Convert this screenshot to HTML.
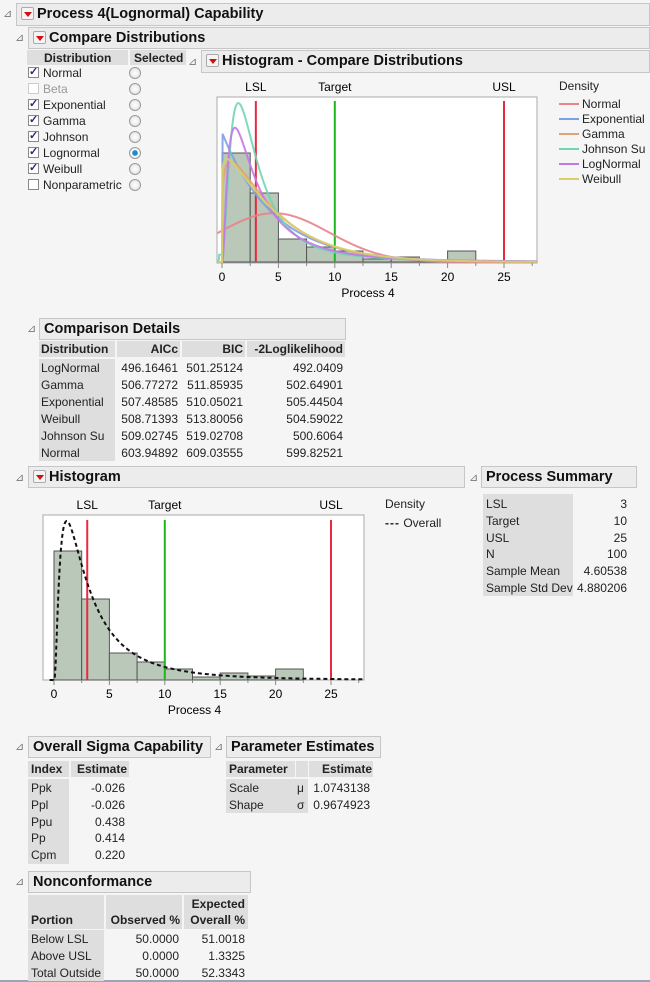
<!DOCTYPE html>
<html><head><meta charset="utf-8">
<style>
*{margin:0;padding:0;box-sizing:border-box}
body{width:650px;height:982px;background:#f5f5f5;position:relative;overflow:hidden;font-family:"Liberation Sans",sans-serif;font-size:12px;color:#222}
.a{position:absolute;white-space:nowrap}
.hd{position:absolute;background:#ececec;border:1px solid #c6c6c6;font-weight:bold;font-size:14.5px;line-height:20px;padding-left:4px;color:#111}
.tri{position:absolute;font-size:11px;color:#777}
.btn{display:inline-block;width:13px;height:13px;border:1px solid #aaa;background:#f4f4f4;vertical-align:-2px;margin-right:3px;position:relative;border-radius:2px}
.btn:after{content:"";position:absolute;left:2px;top:4px;border-left:4px solid transparent;border-right:4px solid transparent;border-top:5px solid #d01010}
.g{position:absolute;background:#dedede}
.cb{position:absolute;width:11px;height:11px;border:1px solid #888;background:#fff;font-size:11px;line-height:9px;text-align:center;color:#2a2a7a;font-weight:bold}
.rd{position:absolute;width:12px;height:12px;border-radius:50%;border:1px solid #999;background:radial-gradient(#fff,#ddd)}
.r{text-align:right}
.b{font-weight:bold}
</style></head><body>
<span class="tri" style="left:3px;top:7px">⊿</span>
<div class="hd" style="left:16px;top:3px;width:634px;height:23px"><span class="btn"></span>Process 4(Lognormal) Capability</div>
<span class="tri" style="left:15px;top:31px">⊿</span>
<div class="hd" style="left:28px;top:27px;width:622px;height:22px"><span class="btn"></span>Compare Distributions</div>

<div class="g" style="left:27px;top:50px;width:101px;height:15px"></div>
<div class="g" style="left:130px;top:50px;width:56px;height:15px"></div>
<div class="a b" style="left:44px;top:51px">Distribution</div>
<div class="a b" style="left:134px;top:51px">Selected</div>

<span class="tri" style="left:188px;top:55px">⊿</span>
<div class="hd" style="left:201px;top:50px;width:449px;height:23px"><span class="btn"></span>Histogram - Compare Distributions</div>

<svg class="a" style="left:0;top:0" width="650" height="982" id="svg">
</svg>

<div class="a" style="left:559px;top:79px">Density</div>

<span class="tri" style="left:27px;top:322px">⊿</span>
<div class="hd" style="left:39px;top:318px;width:307px;height:22px">Comparison Details</div>

<span class="tri" style="left:15px;top:471px">⊿</span>
<div class="hd" style="left:28px;top:466px;width:437px;height:22px"><span class="btn"></span>Histogram</div>
<span class="tri" style="left:469px;top:471px">⊿</span>
<div class="hd" style="left:481px;top:466px;width:156px;height:22px">Process Summary</div>
<div class="a" style="left:385px;top:497px">Density</div>
<div class="a" style="left:385px;top:516px"><span style="letter-spacing:1px;font-weight:bold">---</span> Overall</div>

<span class="tri" style="left:15px;top:740px">⊿</span>
<div class="hd" style="left:28px;top:736px;width:183px;height:22px">Overall Sigma Capability</div>
<span class="tri" style="left:214px;top:740px">⊿</span>
<div class="hd" style="left:226px;top:736px;width:155px;height:22px">Parameter Estimates</div>

<span class="tri" style="left:15px;top:875px">⊿</span>
<div class="hd" style="left:28px;top:871px;width:223px;height:22px">Nonconformance</div>
<div class="a" style="left:0;top:980px;width:650px;height:2px;background:#9aa3b8"></div>

<script>
function add(html){document.body.insertAdjacentHTML('beforeend',html);}
var dl=[["Normal",1],["Beta",-1],["Exponential",1],["Gamma",1],["Johnson",1],["Lognormal",1],["Weibull",1],["Nonparametric",0]];
dl.forEach(function(d,i){var y=66+i*16;
 add('<div class="cb" style="left:28px;top:'+(y+1)+'px;'+(d[1]<0?'border-color:#ccc':'')+'">'+(d[1]>0?'✓':'')+'</div>');
 add('<div class="a" style="left:43px;top:'+y+'px;'+(d[1]<0?'color:#999':'')+'">'+d[0]+'</div>');
 add('<div class="rd" style="left:129px;top:'+(y+1)+'px;'+(i==5?'background:radial-gradient(#1a8fd0 35%,#fff 45%,#ddd)':'')+'"></div>');
});
var cols=[["Normal","#e8838a"],["Exponential","#7f9fe6"],["Gamma","#e0a56f"],["Johnson Su","#6fd6b4"],["LogNormal","#c477e8"],["Weibull","#d8cf6a"]];
cols.forEach(function(c,i){var y=104+i*15;
 add('<div class="a" style="left:559px;top:'+(y-1)+'px;width:20px;height:2px;background:'+c[1]+'"></div>');
 add('<div class="a" style="left:582px;top:'+(y-7)+'px">'+c[0]+'</div>');});
var cx=[[39,76],[117,63],[182,63],[247,98]];
cx.forEach(function(c,i){add('<div class="g" style="left:'+c[0]+'px;top:341px;width:'+c[1]+'px;height:16px"></div>');});
add('<div class="g" style="left:39px;top:359px;width:76px;height:102px"></div>');
var hh=["Distribution","AICc","BIC","-2Loglikelihood"];
hh.forEach(function(h,i){add('<div class="a b '+(i?'r':'')+'" style="left:'+(cx[i][0]+2)+'px;top:342px;width:'+(cx[i][1]-4)+'px">'+h+'</div>');});
var rows=[["LogNormal","496.16461","501.25124","492.0409"],["Gamma","506.77272","511.85935","502.64901"],["Exponential","507.48585","510.05021","505.44504"],["Weibull","508.71393","513.80056","504.59022"],["Johnson Su","509.02745","519.02708","500.6064"],["Normal","603.94892","609.03555","599.82521"]];
rows.forEach(function(r,j){var y=361+j*17;r.forEach(function(v,i){
 add('<div class="a '+(i?'r':'')+'" style="left:'+(cx[i][0]+2)+'px;top:'+y+'px;width:'+(cx[i][1]-4)+'px">'+v+'</div>');});});
add('<div class="g" style="left:483px;top:494px;width:90px;height:102px"></div>');
[["LSL","3"],["Target","10"],["USL","25"],["N","100"],["Sample Mean","4.60538"],["Sample Std Dev","4.880206"]].forEach(function(r,j){var y=497+j*16.8;
 add('<div class="a" style="left:486px;top:'+y+'px">'+r[0]+'</div><div class="a r" style="left:560px;width:67px;top:'+y+'px">'+r[1]+'</div>');});
add('<div class="g" style="left:28px;top:761px;width:41px;height:16px"></div><div class="g" style="left:71px;top:761px;width:58px;height:16px"></div><div class="g" style="left:28px;top:779px;width:41px;height:85px"></div>');
add('<div class="a b" style="left:31px;top:762px">Index</div><div class="a b" style="left:77px;top:762px">Estimate</div>');
[["Ppk","-0.026"],["Ppl","-0.026"],["Ppu","0.438"],["Pp","0.414"],["Cpm","0.220"]].forEach(function(r,j){var y=781+j*16.8;
 add('<div class="a" style="left:31px;top:'+y+'px">'+r[0]+'</div><div class="a r" style="left:70px;width:55px;top:'+y+'px">'+r[1]+'</div>');});
add('<div class="g" style="left:226px;top:761px;width:69px;height:16px"></div><div class="g" style="left:296px;top:761px;width:12px;height:16px"></div><div class="g" style="left:309px;top:761px;width:64px;height:16px"></div><div class="g" style="left:226px;top:779px;width:82px;height:34px"></div>');
add('<div class="a b" style="left:229px;top:762px">Parameter</div><div class="a b" style="left:322px;top:762px">Estimate</div>');
add('<div class="a" style="left:229px;top:781px">Scale</div><div class="a" style="left:297px;top:781px">μ</div><div class="a r" style="left:308px;width:62px;top:781px">1.0743138</div>');
add('<div class="a" style="left:229px;top:798px">Shape</div><div class="a" style="left:297px;top:798px">σ</div><div class="a r" style="left:308px;width:62px;top:798px">0.9674923</div>');
add('<div class="g" style="left:28px;top:895px;width:76px;height:34px"></div><div class="g" style="left:106px;top:895px;width:76px;height:34px"></div><div class="g" style="left:184px;top:895px;width:64px;height:34px"></div><div class="g" style="left:28px;top:930px;width:76px;height:51px"></div>');
add('<div class="a b" style="left:31px;top:913px">Portion</div><div class="a b r" style="left:106px;width:74px;top:913px">Observed %</div><div class="a b r" style="left:184px;width:61px;top:897px">Expected</div><div class="a b r" style="left:184px;width:61px;top:913px">Overall %</div>');
[["Below LSL","50.0000","51.0018"],["Above USL","0.0000","1.3325"],["Total Outside","50.0000","52.3343"]].forEach(function(r,j){var y=932+j*17;
 add('<div class="a" style="left:31px;top:'+y+'px">'+r[0]+'</div><div class="a r" style="left:106px;width:73px;top:'+y+'px">'+r[1]+'</div><div class="a r" style="left:184px;width:61px;top:'+y+'px">'+r[2]+'</div>');});

var S='';
function gammaF(z){var g=7,c=[0.99999999999980993,676.5203681218851,-1259.1392167224028,771.32342877765313,-176.61502916214059,12.507343278686905,-0.13857109526572012,9.9843695780195716e-6,1.5056327351493116e-7];
 if(z<0.5)return Math.PI/(Math.sin(Math.PI*z)*gammaF(1-z));z-=1;var x=c[0];for(var i=1;i<g+2;i++)x+=c[i]/(z+i);var t=z+g+0.5;return Math.sqrt(2*Math.PI)*Math.pow(t,z+0.5)*Math.exp(-t)*x;}
function ln(x,m,s){if(x<=0)return 0;var a=Math.log(x)-m;return Math.exp(-a*a/(2*s*s))/(x*s*Math.sqrt(2*Math.PI));}
var pdfs={
 n:function(x){var a=(x-4.605)/4.88;return Math.exp(-a*a/2)/(4.88*2.5066);},
 e:function(x){return x<0?0:Math.exp(-x/4.605)/4.605;},
 g:function(x){var k=1.2,t=3.84;return x<=0?0:Math.pow(x,k-1)*Math.exp(-x/t)/(gammaF(k)*Math.pow(t,k));},
 j:function(x){return ln(x+0.12,1.0,0.74)*0.98+0.012*Math.exp(-x/12)*(x>-0.3?1:0);},
 l:function(x){return ln(x,1.0743,0.9675);},
 w:function(x){var k=1.08,L=4.8;return x<=0?0:(k/L)*Math.pow(x/L,k-1)*Math.exp(-Math.pow(x/L,k));}
};
function chart(fx,fy,fw,fh,x0,ppu,base,bars,lsly,scale){
 S+='<rect x="'+fx+'" y="'+fy+'" width="'+fw+'" height="'+fh+'" fill="#fff" stroke="#aaa"/>';
 bars.forEach(function(t,i){if(t>=base)return;var x=x0+i*2.5*ppu;S+='<rect x="'+x.toFixed(1)+'" y="'+t+'" width="'+(2.5*ppu).toFixed(1)+'" height="'+(base-t)+'" fill="#b9c8b9" stroke="#555" stroke-width="1"/>';});
 var X=function(v){return x0+v*ppu;};
 S+='<line x1="'+X(3)+'" y1="'+lsly+'" x2="'+X(3)+'" y2="'+base+'" stroke="#e8293f" stroke-width="2"/>';
 S+='<line x1="'+X(10)+'" y1="'+lsly+'" x2="'+X(10)+'" y2="'+base+'" stroke="#1db81d" stroke-width="2"/>';
 S+='<line x1="'+X(25)+'" y1="'+lsly+'" x2="'+X(25)+'" y2="'+base+'" stroke="#e8293f" stroke-width="2"/>';
 var ty=fy-6;
 S+='<text x="'+X(3)+'" y="'+ty+'" text-anchor="middle" font-size="12" font-family="Liberation Sans">LSL</text>';
 S+='<text x="'+X(10)+'" y="'+ty+'" text-anchor="middle" font-size="12" font-family="Liberation Sans">Target</text>';
 S+='<text x="'+X(25)+'" y="'+ty+'" text-anchor="middle" font-size="12" font-family="Liberation Sans">USL</text>';
 for(var v=0;v<=27.5;v+=2.5){var tl=(v%5==0)?5:3;S+='<line x1="'+X(v)+'" y1="'+(fy+fh)+'" x2="'+X(v)+'" y2="'+(fy+fh+tl)+'" stroke="#888"/>';
  if(v%5==0)S+='<text x="'+X(v)+'" y="'+(fy+fh+18)+'" text-anchor="middle" font-size="12" font-family="Liberation Sans">'+v+'</text>';}
 S+='<text x="'+(fx+fw/2-9)+'" y="'+(fy+fh+34)+'" text-anchor="middle" font-size="12" font-family="Liberation Sans">Process 4</text>';
 return function(f,col,extra){var d='';for(var x=-0.4;x<=(fx+fw-x0)/ppu;x+=0.05){var y=base-f(x)*scale;if(y<fy)y=fy;d+=(d?'L':'M')+X(x).toFixed(1)+','+y.toFixed(1);}
  S+='<path d="'+d+'" fill="none" stroke="'+col+'" '+extra+'/>';};
}
var c1=chart(217,97,320,166,222,11.28,262,[153,193,239,247,251,259,257,260,251,262,262],101,597);
c1(pdfs.n,"#e8838a",'stroke-width="2" opacity="0.9"');
c1(pdfs.e,"#7f9fe6",'stroke-width="2" opacity="0.9"');
c1(pdfs.g,"#e0a56f",'stroke-width="2" opacity="0.9"');
c1(pdfs.j,"#6fd6b4",'stroke-width="2" opacity="0.9"');
c1(pdfs.l,"#c477e8",'stroke-width="2" opacity="0.9"');
c1(pdfs.w,"#d8cf6a",'stroke-width="2" opacity="0.9"');
var c2=chart(43,515,321,165,54,11.08,680,[551,599,653,662,669,677,673,676,669,680,680],520,707);
c2(pdfs.l,"#111",'stroke-width="2" stroke-dasharray="4,3"');
document.getElementById('svg').innerHTML=S;
</script>
</body></html>
